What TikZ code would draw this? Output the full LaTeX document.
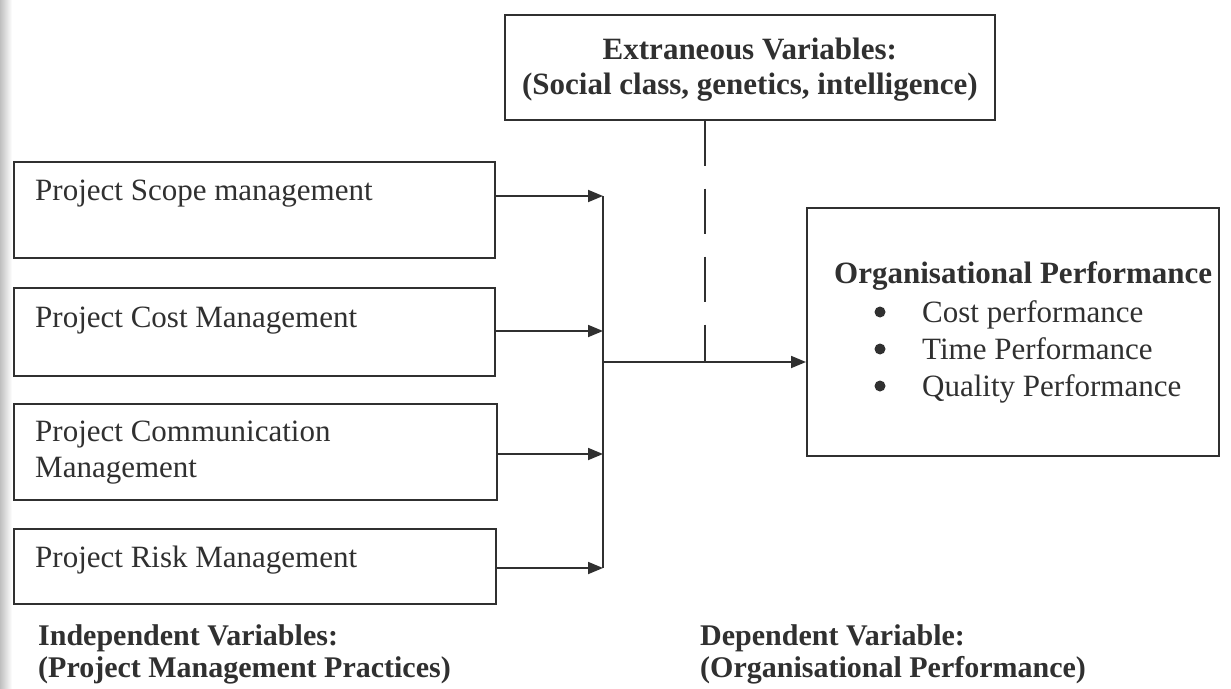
\documentclass[tikz,border=0pt]{standalone}
\usepackage{fontspec}
\setmainfont{Liberation Serif}
\usetikzlibrary{arrows.meta}
\definecolor{ink}{HTML}{303030}
\begin{document}
\begin{tikzpicture}[x=1pt,y=-1pt,
  box/.style={draw=ink, line width=1.7pt, inner sep=0pt, anchor=north west},
  lbl/.style={anchor=base west, inner sep=0pt, text=ink, font=\fontsize{31}{37}\selectfont},
  boldlbl/.style={anchor=base west, inner sep=0pt, text=ink, font=\bfseries\fontsize{31}{37}\selectfont},
  caption/.style={anchor=base west, inner sep=0pt, text=ink, font=\bfseries\fontsize{30}{33}\selectfont},
  dot/.style={circle, fill=ink, inner sep=0pt, minimum size=11pt},
  conn/.style={draw=ink, line width=1.8pt},
  arr/.style={conn, -{Triangle[length=15pt,width=12pt]}},
]
\useasboundingbox (0,0) rectangle (1231,688);
\fill[white] (0,0) rectangle (1231,688);
\shade[left color=black!25, right color=white] (0,0) rectangle (12,688);

% extraneous box
\node[box, minimum width=490pt, minimum height=105pt] (ext) at (504,14) {};
\node[align=center, inner sep=0pt, text=ink, font=\bfseries\fontsize{31}{35}\selectfont] (extt) at ([yshift=-2pt]ext.center) {Extraneous Variables:\\(Social class, genetics, intelligence)};

% independent boxes
\node[box, minimum width=481pt, minimum height=96pt] (b1) at (13,161) {};
\node[box, minimum width=481pt, minimum height=88pt] (b2) at (13,287) {};
\node[box, minimum width=483pt, minimum height=96pt] (b3) at (13,403) {};
\node[box, minimum width=482pt, minimum height=75pt] (b4) at (13,528) {};
\node[lbl] (t1) at (35,200) {Project Scope management};
\node[lbl] (t2) at (35,327) {Project Cost Management};
\node[lbl] (t3) at (35,441) {Project Communication};
\node[lbl] (t3b) at (35,477) {Management};
\node[lbl] (t4) at (35,567) {Project Risk Management};

% dependent box
\node[box, minimum width=412pt, minimum height=248pt] (org) at (806,207) {};
\node[boldlbl] (ot) at (834,283) {Organisational Performance};
\node[dot] (d1) at (880,312) {};
\node[dot] (d2) at (880,349) {};
\node[dot] (d3) at (880,386) {};
\node[lbl] (o1) at (922,322) {Cost performance};
\node[lbl] (o2) at (922,359) {Time Performance};
\node[lbl] (o3) at (922,396) {Quality Performance};

% connectors
\coordinate (j1) at (603,196);
\coordinate (j2) at (603,331);
\coordinate (j3) at (603,454);
\coordinate (j4) at (603,568);
\coordinate (m) at (603,362);
\coordinate (dx) at (705,0);
\draw[arr] (b1.east |- j1) -- (j1);
\draw[arr] (b2.east |- j2) -- (j2);
\draw[arr] (b3.east |- j3) -- (j3);
\draw[arr] (b4.east |- j4) -- (j4);
\draw[conn] (j1) -- (j4);
\draw[arr] (m) -- (org.west |- m);
\draw[conn, dash pattern=on 45pt off 23pt] (ext.south -| dx) -- (dx |- m);

% captions
\node[caption] (c1) at (38,645) {Independent Variables:};
\node[caption] (c2) at (38,677) {(Project Management Practices)};
\node[caption] (c3) at (700,645) {Dependent Variable:};
\node[caption] (c4) at (700,677) {(Organisational Performance)};
\end{tikzpicture}
\end{document}
